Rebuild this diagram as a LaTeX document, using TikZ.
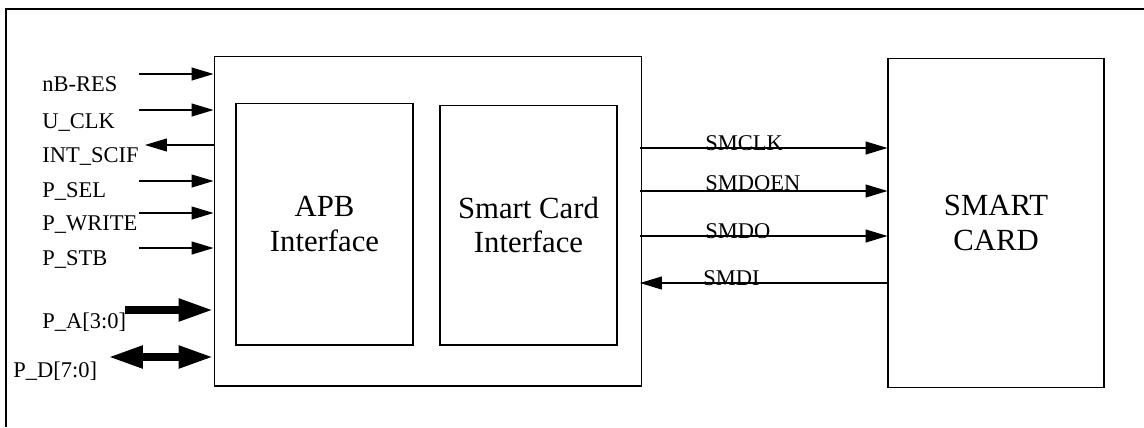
\documentclass[tikz,border=0pt]{standalone}
\usepackage{fontspec}
\setmainfont{Liberation Serif}
\usetikzlibrary{arrows.meta, positioning}
\tikzset{
  >={Triangle[length=4.4mm, width=2.6mm]},
  bushead/.tip = {Triangle[length=7mm, width=4.2mm]},
  blk/.style   = {draw, line width=0.6pt, inner sep=0pt, align=center,
                  font=\fontsize{17.5}{19.5}\selectfont},
  sig/.style   = {->, line width=0.6pt},
  bus/.style   = {line width=4.5pt},
  lbl/.style   = {font=\fontsize{12.8}{15}\selectfont, inner sep=0pt, anchor=base west},
}

\begin{document}
\begin{tikzpicture}[x=0.02cm, y=-0.02cm]
  \useasboundingbox (0,0) rectangle (1144,427);
  \draw[line width=1.2pt] (6,427) -- (6,9) -- (1144,9);

  % blocks
  \node[blk, minimum width=8.56cm, minimum height=6.6cm]  (main) at (428,221)   {};
  \node[blk, minimum width=3.54cm, minimum height=4.84cm] (apb)  at (324.5,224) {APB\\Interface};
  \node[blk, minimum width=3.54cm, minimum height=4.8cm]  (sci)  at (528.5,225) {Smart Card\\Interface};
  \node[blk, minimum width=4.32cm, minimum height=6.58cm] (card) at (996,223)   {SMART\\CARD};

  % APB side
  \foreach \nm/\y/\by/\txt in {nbres/74/91/{nB-RES}, uclk/110/128/{U\_CLK},
      psel/181/197/{P\_SEL}, pwrite/213/230/{P\_WRITE}, pstb/248/265/{P\_STB}} {
    \node[lbl] (\nm-l) at (42,\by) {\txt};
    \coordinate (\nm-s) at (139,\y);
    \draw[sig] (\nm-s) -- (\nm-s -| main.west);
  }
  \node[lbl] (intscif-l) at (42,162) {INT\_SCIF};
  \coordinate (intscif-s) at (145,145);
  \draw[sig] (intscif-s -| main.west) -- (intscif-s);

  \node[lbl] (pa-l) at (42,328) {P\_A[3:0]};
  \coordinate (pa-s) at (125,310);
  \draw[bus, -bushead] (pa-s) -- (pa-s -| main.west);
  \node[lbl] (pd-l) at (13,377) {P\_D[7:0]};
  \coordinate (pd-s) at (108,357);
  \draw[bus, bushead-bushead] (pd-s) -- (pd-s -| main.west);

  % card side
  \foreach \nm/\y/\by/\txt in {smclk/148/150/SMCLK, smdoen/191/190/SMDOEN, smdo/236/238/SMDO} {
    \node[lbl] (\nm-l) at (705,\by) {\txt};
    \coordinate (\nm-s) at (640,\y);
    \draw[sig] (\nm-s) -- (\nm-s -| card.west);
  }
  \node[lbl] (smdi-l) at (703,285) {SMDI};
  \coordinate (smdi-s) at (640,283);
  \draw[sig] (smdi-s -| card.west) -- (smdi-s);
\end{tikzpicture}
\end{document}
